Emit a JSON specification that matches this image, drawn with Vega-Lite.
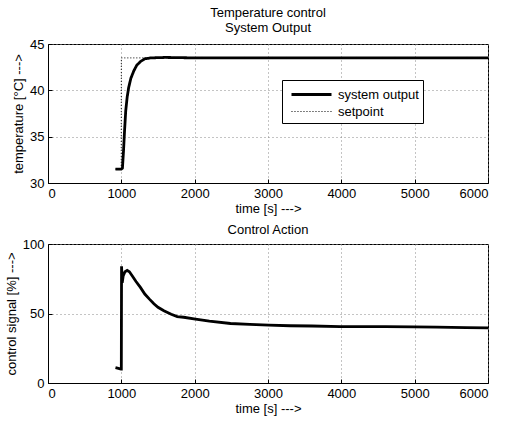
{
  "$schema": "https://vega.github.io/schema/vega-lite/v6.json",
  "background": "white",
  "padding": {"left": 4, "top": 6, "right": 14, "bottom": 5},
  "spacing": 7,
  "config": {
    "font": "Liberation Sans",
    "view": {"stroke": "black", "strokeWidth": 1},
    "title": {"font": "Liberation Sans", "fontSize": 13, "fontWeight": "normal", "color": "black"},
    "axis": {
      "labelFont": "Liberation Sans", "labelFontSize": 13, "labelColor": "black",
      "titleFont": "Liberation Sans", "titleFontSize": 13, "titleFontWeight": "normal", "titleColor": "black",
      "domainColor": "black", "tickColor": "black", "tickSize": -4, "labelPadding": 8,
      "gridColor": "#888888", "gridDash": [1, 3], "gridOpacity": 1, "gridWidth": 1
    },
    "legend": {"labelFont": "Liberation Sans", "labelFontSize": 13, "labelColor": "black"}
  },
  "datasets": {
    "temp": [
      {"t": 920, "v": 31.5, "series": "system output"},
      {"t": 1000, "v": 31.5, "series": "system output"},
      {"t": 1015, "v": 31.6, "series": "system output"},
      {"t": 1030, "v": 33.5, "series": "system output"},
      {"t": 1045, "v": 35.8, "series": "system output"},
      {"t": 1060, "v": 37.8, "series": "system output"},
      {"t": 1080, "v": 39.3, "series": "system output"},
      {"t": 1100, "v": 40.3, "series": "system output"},
      {"t": 1130, "v": 41.3, "series": "system output"},
      {"t": 1170, "v": 42.1, "series": "system output"},
      {"t": 1210, "v": 42.7, "series": "system output"},
      {"t": 1260, "v": 43.1, "series": "system output"},
      {"t": 1320, "v": 43.4, "series": "system output"},
      {"t": 1400, "v": 43.5, "series": "system output"},
      {"t": 1600, "v": 43.55, "series": "system output"},
      {"t": 2000, "v": 43.5, "series": "system output"},
      {"t": 3000, "v": 43.5, "series": "system output"},
      {"t": 4000, "v": 43.5, "series": "system output"},
      {"t": 5000, "v": 43.5, "series": "system output"},
      {"t": 6000, "v": 43.5, "series": "system output"},
      {"t": 920, "v": 31.5, "series": "setpoint"},
      {"t": 999, "v": 31.5, "series": "setpoint"},
      {"t": 1000, "v": 43.5, "series": "setpoint"},
      {"t": 6000, "v": 43.5, "series": "setpoint"}
    ],
    "ctrl": [
      {"t": 920, "u": 11}, {"t": 960, "u": 10.5}, {"t": 995, "u": 10}, {"t": 1000, "u": 10},
      {"t": 1003, "u": 84}, {"t": 1012, "u": 72}, {"t": 1025, "u": 77}, {"t": 1050, "u": 80},
      {"t": 1080, "u": 81}, {"t": 1110, "u": 80}, {"t": 1150, "u": 77}, {"t": 1200, "u": 73},
      {"t": 1260, "u": 68.8}, {"t": 1320, "u": 64}, {"t": 1380, "u": 60.5}, {"t": 1444, "u": 57},
      {"t": 1500, "u": 54.5}, {"t": 1580, "u": 52}, {"t": 1680, "u": 49.5}, {"t": 1762, "u": 47.8},
      {"t": 1850, "u": 47.3}, {"t": 2012, "u": 46}, {"t": 2200, "u": 44.5}, {"t": 2489, "u": 42.8},
      {"t": 2750, "u": 42.2}, {"t": 3011, "u": 41.6}, {"t": 3300, "u": 41.2}, {"t": 3600, "u": 41},
      {"t": 3987, "u": 40.6}, {"t": 4300, "u": 40.6}, {"t": 4600, "u": 40.5}, {"t": 4986, "u": 40.4},
      {"t": 5300, "u": 40.2}, {"t": 5700, "u": 39.8}, {"t": 6000, "u": 39.7}
    ]
  },
  "vconcat": [
    {
      "title": {"text": ["Temperature control", "System Output"], "offset": 3},
      "width": 440,
      "height": 139,
      "data": {"name": "temp"},
      "mark": {"type": "line", "color": "black", "clip": true},
      "encoding": {
        "x": {"field": "t", "type": "quantitative", "scale": {"domain": [0, 6000], "nice": false},
              "axis": {"values": [0, 1000, 2000, 3000, 4000, 5000, 6000], "format": "d", "title": "time [s] --->", "titlePadding": 2}},
        "y": {"field": "v", "type": "quantitative", "scale": {"domain": [30, 45], "nice": false, "zero": false},
              "axis": {"values": [30, 35, 40, 45], "title": "temperature [°C] --->", "titlePadding": 4}},
        "strokeDash": {"field": "series", "type": "nominal",
                       "scale": {"domain": ["system output", "setpoint"], "range": [[1, 0], [1, 2]]},
                       "legend": {"title": null, "orient": "none", "legendX": 234, "legendY": 36,
                                  "fillColor": "white", "strokeColor": "black", "padding": 4,
                                  "symbolType": "M-0.556,0H3.889", "symbolSize": 324, "symbolStrokeColor": "black",
                                  "rowPadding": 0, "labelOffset": 31}},
        "strokeWidth": {"field": "series", "type": "nominal",
                        "scale": {"domain": ["system output", "setpoint"], "range": [2.8, 1]}, "legend": null}
      }
    },
    {
      "title": {"text": "Control Action", "offset": 1},
      "width": 440,
      "height": 139,
      "data": {"name": "ctrl"},
      "mark": {"type": "line", "color": "black", "strokeWidth": 2.8, "clip": true},
      "encoding": {
        "x": {"field": "t", "type": "quantitative", "scale": {"domain": [0, 6000], "nice": false},
              "axis": {"values": [0, 1000, 2000, 3000, 4000, 5000, 6000], "format": "d", "title": "time [s] --->", "titlePadding": 2}},
        "y": {"field": "u", "type": "quantitative", "scale": {"domain": [0, 100], "nice": false},
              "axis": {"values": [0, 50, 100], "title": "control signal [%] --->", "titlePadding": 4}}
      }
    }
  ]
}
